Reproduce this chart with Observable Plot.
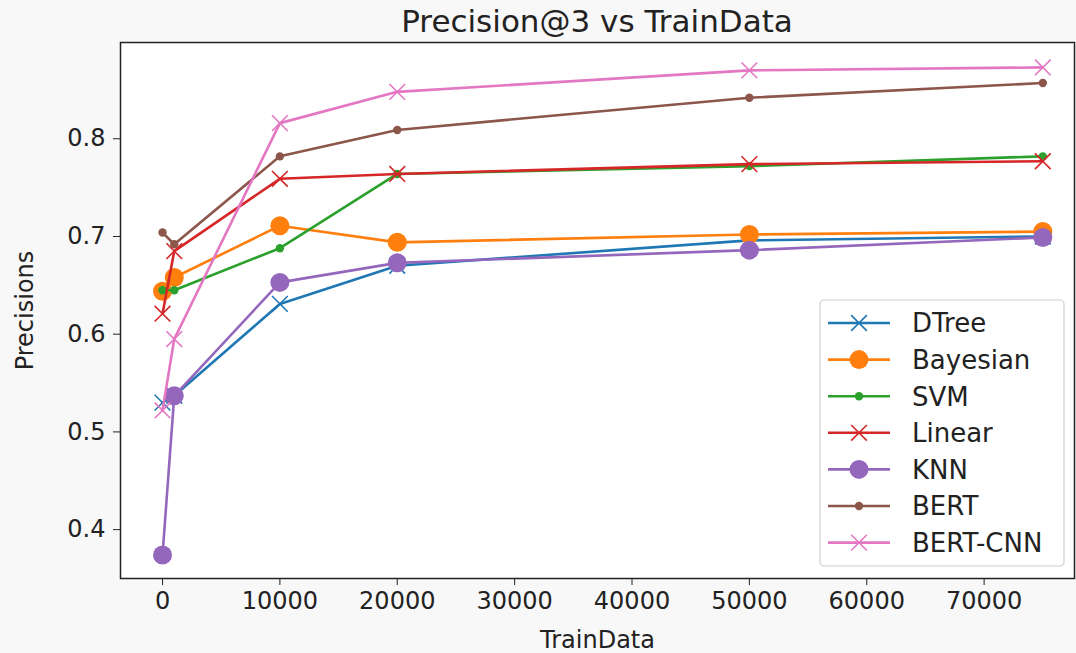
<!DOCTYPE html>
<html><head><meta charset="utf-8">
<script src="https://cdn.jsdelivr.net/npm/d3@7"></script>
<script src="https://cdn.jsdelivr.net/npm/@observablehq/plot@0.6"></script>
<style>
body{margin:0;background:#f8f8f8;font-family:"DejaVu Sans",sans-serif;}
#wrap{position:relative;width:1076px;height:653px;overflow:hidden;}
#title{position:absolute;left:120px;width:954px;top:0;height:40px;text-align:center;font-size:31px;line-height:42px;color:#222;}
#chart{position:absolute;left:0;top:40px;}
#legend{position:absolute;left:0;top:0;}
</style></head><body>
<div id="wrap"><div id="title">Precision@3 vs TrainData</div><div id="chart"></div><svg id="legend" width="1076" height="653"></svg></div>
<script>
const trainData = [0, 1000, 10000, 20000, 50000, 75000];
const seriesNames = ["DTree", "Bayesian", "SVM", "Linear", "KNN", "BERT", "BERT-CNN"];
const dtree    = [0.530, 0.537, 0.631, 0.670, 0.696, 0.700];
const bayesian = [0.644, 0.658, 0.711, 0.694, 0.702, 0.705];
const svm      = [0.645, 0.645, 0.688, 0.764, 0.772, 0.782];
const linear   = [0.621, 0.685, 0.759, 0.764, 0.774, 0.777];
const knn      = [0.374, 0.537, 0.653, 0.673, 0.686, 0.699];
const bert     = [0.704, 0.692, 0.782, 0.809, 0.842, 0.857];
const bertCnn  = [0.522, 0.595, 0.816, 0.848, 0.870, 0.873];
const xTicks = [0, 10000, 20000, 30000, 40000, 50000, 60000, 70000];
const yTicks = [0.4, 0.5, 0.6, 0.7, 0.8];
const xLabel = "TrainData";
const yLabel = "Precisions";

const seriesValues = [dtree, bayesian, svm, linear, knn, bert, bertCnn];
const colors = ["#1f77b4", "#ff7f0e", "#2ca02c", "#d62728", "#9467bd", "#8c564b", "#e377c2"];
const markers = ["times", "circle", "dot", "times", "circle", "dot", "times"];

function markerOpts(kind, color) {
  if (kind === "times") return {symbol: "times", r: 7.2, stroke: color, strokeWidth: 1.6, fill: "none"};
  if (kind === "circle") return {symbol: "circle", r: 9.5, fill: color, stroke: "none"};
  return {symbol: "circle", r: 4.2, fill: color, stroke: "none"};
}

const marks = [Plot.frame({fill: "white", stroke: "none"})];
seriesNames.forEach((name, i) => {
  const rows = trainData.map((t, j) => ({series: name, x: t, y: seriesValues[i][j]}));
  marks.push(Plot.line(rows, {x: "x", y: "y", stroke: colors[i], strokeWidth: 2.6}));
  marks.push(Plot.dot(rows, {x: "x", y: "y", ...markerOpts(markers[i], colors[i])}));
});

const chart = Plot.plot({
  width: 1076, height: 613,
  marginTop: 2, marginBottom: 75, marginLeft: 120, marginRight: 2,
  style: {fontFamily: "DejaVu Sans", fontSize: "24px", background: "transparent", color: "#222"},
  x: {domain: [-3580, 77700]},
  y: {domain: [0.35, 0.8985]},
  marks: [
    ...marks,
    Plot.axisX({ticks: xTicks, tickFormat: d => String(d), tickSize: 7, tickPadding: 6, label: null}),
    Plot.axisY({ticks: yTicks, tickFormat: d3.format(".1f"), tickSize: 7, tickPadding: 8, label: null}),
    Plot.text([xLabel], {text: d => d, frameAnchor: "bottom", dy: 69, fontSize: 24, fill: "#222"}),
    Plot.text([yLabel], {text: d => d, frameAnchor: "left", textAnchor: "middle", dx: -95, rotate: -90, fontSize: 24, fill: "#222"}),
    Plot.frame({stroke: "#222", strokeWidth: 1.5})
  ]
});
document.getElementById("chart").appendChild(chart);

// legend
const lg = d3.select("#legend");
const box = {x: 820, y: 300, w: 244, h: 266};
lg.append("rect").attr("x", box.x).attr("y", box.y).attr("width", box.w).attr("height", box.h)
  .attr("rx", 4).attr("fill", "white").attr("fill-opacity", 0.85).attr("stroke", "#d0d0d0").attr("stroke-width", 1.2);
seriesNames.forEach((name, i) => {
  const cy = 323 + i * 36.6;
  const g = lg.append("g");
  g.append("line").attr("x1", 828).attr("x2", 890).attr("y1", cy).attr("y2", cy)
    .attr("stroke", colors[i]).attr("stroke-width", 2.6);
  const m = markers[i];
  if (m === "times") {
    g.append("path").attr("transform", `translate(859,${cy})`)
      .attr("d", d3.symbol(d3.symbolTimes, Math.PI * 7.2 * 7.2)())
      .attr("stroke", colors[i]).attr("stroke-width", 1.6).attr("fill", "none");
  } else {
    g.append("circle").attr("cx", 859).attr("cy", cy).attr("r", m === "circle" ? 9.5 : 4.2).attr("fill", colors[i]);
  }
  g.append("text").attr("x", 912).attr("y", cy).attr("dy", "0.36em")
    .attr("font-family", "DejaVu Sans").attr("font-size", 26).attr("fill", "#222").text(name);
});
</script>
</body></html>
